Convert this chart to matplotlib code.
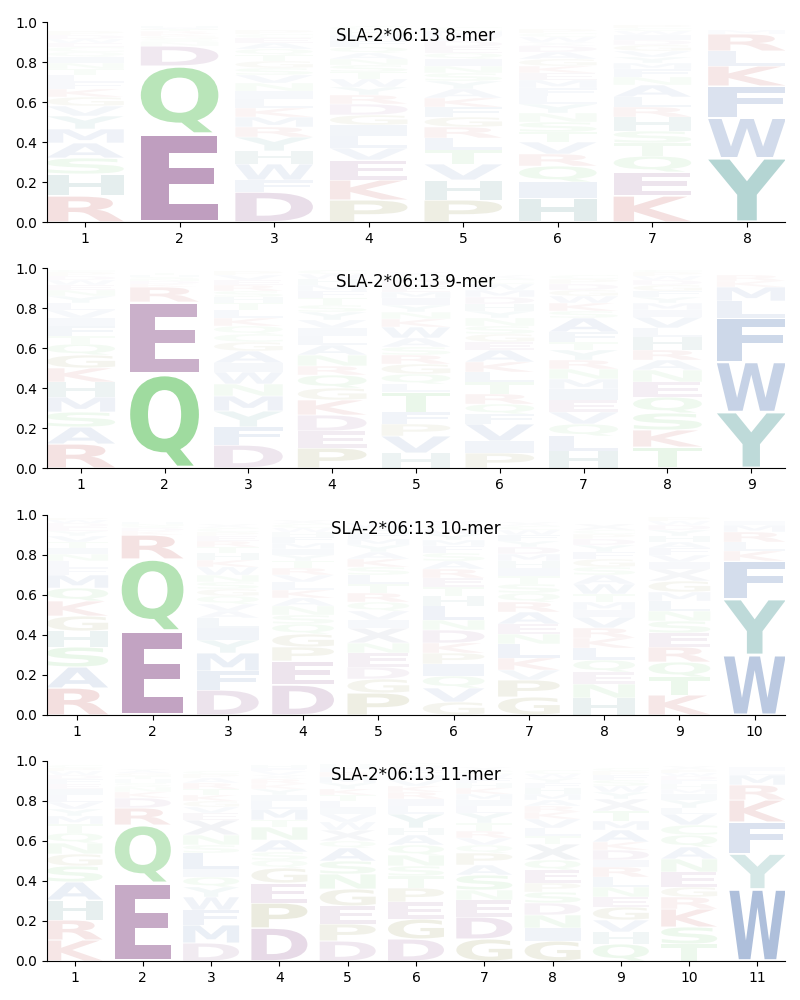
import matplotlib
matplotlib.use("Agg")
import matplotlib.pyplot as plt
from matplotlib.textpath import TextPath
from matplotlib.patches import PathPatch
from matplotlib.font_manager import FontProperties
from matplotlib.transforms import Affine2D

allele = "SLA-2*06:13"

# letters of each position, bottom to top, with their heights
letters_8 = ["RHSAMYVGKFLTNIQCEWDP", "EQDNSGKRTAH", "DFWHYRMKLINVSGTQAECP",
             "PKEVLIGDRYWTSNAQFMHC", "PHVTLRGFKAYSNIQEDWMC", "HIQRVTSNYLFMEKGADXWCP",
             "KEQTSHRLANFMYVGDIWCP", "YWFKLRM"]
heights_8 = [
    [.13, .11, .08, .075, .07, .065, .05, .045, .04, .035, .035, .03, .03, .03, .025, .025, .02, .02, .02, .02],
    [.44, .34, .10, .02, .015, .015, .012, .012, .01, .008, .008],
    [.15, .06, .08, .065, .07, .05, .05, .045, .045, .04, .04, .04, .035, .035, .03, .03, .03, .025, .02, .02],
    [.11, .10, .10, .06, .06, .055, .05, .055, .045, .04, .04, .035, .035, .03, .03, .03, .03, .03, .025, .02],
    [.11, .10, .08, .07, .06, .055, .05, .05, .045, .045, .04, .04, .035, .035, .03, .03, .03, .025, .025, .02],
    [.12, .08, .08, .06, .06, .05, .05, .045, .045, .04, .04, .04, .035, .035, .035, .035, .03, .02, .025, .02, .02],
    [.13, .12, .08, .065, .06, .07, .05, .05, .06, .04, .04, .03, .03, .03, .03, .025, .025, .02, .015, .015],
    [.32, .20, .16, .10, .075, .085, .02],
]

letters_9 = ["RASMHKGQTFIVLYNEWDPC", "QERKDNSHT", "DFYMNWIAGCQKLTHSREVP",
             "PEDKGQRNALIVYSTFMHWC", "HVPFTLQGRSAWKNYIMEDCX", "PIVFQRTLKAEGSNYHDMWCX",
             "HLQVEIMNRYTFASKWGDPC", "TKSQENARHLVIMYFGDWPC", "YWFLMKR"]
heights_9 = [
    [.12, .085, .075, .075, .075, .07, .065, .055, .04, .05, .04, .04, .035, .035, .03, .025, .025, .02, .02, .01],
    [.47, .36, .075, .015, .015, .01, .01, .01, .01],
    [.115, .09, .08, .075, .06, .06, .045, .06, .045, .04, .04, .04, .04, .035, .03, .03, .03, .025, .025, .02],
    [.10, .085, .08, .075, .06, .065, .045, .055, .05, .045, .04, .04, .04, .035, .035, .035, .03, .03, .025, .02],
    [.075, .085, .06, .06, .10, .04, .05, .05, .045, .04, .045, .055, .04, .035, .035, .035, .03, .03, .03, .02, .02],
    [.075, .06, .085, .05, .05, .05, .06, .05, .05, .06, .04, .04, .04, .04, .035, .035, .035, .035, .03, .025, .02],
    [.085, .075, .06, .06, .06, .055, .05, .05, .045, .05, .04, .05, .07, .035, .04, .035, .03, .03, .025, .02],
    [.105, .085, .085, .08, .075, .06, .05, .05, .065, .045, .055, .035, .035, .03, .03, .03, .025, .02, .02, .01],
    [.28, .25, .22, .085, .07, .03, .03],
]

letters_10 = ["RASHGKQMFLNITVYEDWP", "EQRKDSNH", "DFMYILAVQGSNWKHTREPCX",
              "DEPGQSNAKLVRTYIMFHWCX", "PGDENXIVQRTLSKAYMFHW", "GVQIPKDNLHTERASFMYWCX",
              "GPVKLNEARQSTIHMDYFWCX", "HNEQLKRVIMTWASGFYDPCX", "KTQRESNLMGXIVFAHYDWP",
              "WYFKLRMI"]
heights_10 = [
    [.135, .105, .10, .08, .075, .075, .065, .065, .035, .035, .035, .03, .03, .03, .025, .02, .02, .015, .01],
    [.42, .36, .12, .02, .015, .01, .01, .01],
    [.125, .095, .09, .065, .06, .05, .035, .035, .04, .035, .035, .035, .04, .035, .035, .03, .03, .025, .02, .02, .02],
    [.15, .12, .07, .065, .05, .045, .045, .04, .04, .04, .035, .035, .035, .03, .03, .03, .03, .025, .02, .02, .02],
    [.11, .07, .06, .07, .05, .075, .04, .045, .045, .045, .045, .045, .04, .04, .035, .035, .03, .03, .025, .025],
    [.065, .07, .06, .06, .055, .05, .065, .05, .07, .05, .045, .045, .045, .04, .04, .035, .03, .03, .025, .02, .02],
    [.09, .085, .05, .06, .07, .05, .05, .06, .05, .045, .045, .04, .04, .035, .035, .035, .03, .03, .025, .02, .02],
    [.085, .07, .06, .06, .06, .05, .05, .055, .035, .04, .04, .05, .045, .04, .04, .035, .035, .03, .025, .02, .03],
    [.10, .09, .075, .075, .07, .06, .05, .05, .045, .055, .06, .035, .035, .035, .03, .03, .03, .025, .02, .02],
    [.30, .28, .19, .05, .045, .05, .035, .02],
]

letters_11 = ["KRHASGNQTMYVLIEFDWPC", "EQRDKNSHTGAY", "DMFWYQILSNXEVGKTRAPC",
              "DPEGQSANTMLIYKRXVFH", "DPEGNSAQXWVILTKYMRFH", "DGEPTSNQAHYLIRKVMFWC",
              "GDENSAPQVRTYLIMKHFWCX", "GINDSPEQXTLVKRAMHFYWC", "QHVGENLRIDKAMTXYWSFPC",
              "TSKRGENAQCVLYIMHFDWPX", "WYFKRMLI"]
heights_11 = [
    [.105, .10, .10, .09, .08, .06, .055, .05, .045, .04, .035, .035, .035, .03, .025, .025, .02, .02, .015, .015],
    [.39, .29, .085, .05, .03, .025, .02, .02, .015, .015, .01, .01],
    [.09, .09, .075, .065, .05, .05, .04, .08, .04, .05, .075, .035, .03, .03, .03, .03, .03, .025, .02, .015],
    [.165, .125, .10, .075, .04, .04, .06, .065, .035, .055, .04, .03, .03, .025, .025, .02, .02, .015, .015],
    [.10, .085, .09, .085, .075, .065, .065, .035, .055, .04, .04, .03, .035, .03, .03, .03, .03, .025, .02, .02],
    [.11, .10, .085, .07, .06, .05, .055, .05, .05, .035, .07, .04, .035, .035, .03, .03, .025, .025, .02, .015],
    [.11, .11, .085, .05, .075, .05, .06, .04, .035, .035, .04, .05, .035, .03, .03, .03, .025, .025, .02, .015, .02],
    [.10, .065, .065, .06, .055, .045, .065, .05, .08, .04, .04, .045, .035, .03, .03, .03, .03, .025, .025, .02, .02],
    [.085, .06, .06, .065, .05, .05, .05, .05, .035, .05, .04, .06, .045, .05, .06, .035, .03, .03, .025, .02, .015],
    [.085, .085, .09, .06, .05, .075, .065, .06, .06, .05, .055, .03, .04, .03, .025, .025, .02, .02, .015, .015, .02],
    [.36, .175, .16, .11, .075, .05, .02, .02],
]

panels = [(8, letters_8, heights_8), (9, letters_9, heights_9),
          (10, letters_10, heights_10), (11, letters_11, heights_11)]

blue = (0.12, 0.31, 0.61)
green = (0.20, 0.70, 0.20)
purple = (0.43, 0.14, 0.43)
red = (0.67, 0.08, 0.08)
olive = (0.40, 0.40, 0.0)
colors = {
    "A": blue, "I": blue, "L": blue, "M": blue, "V": blue, "F": blue, "W": blue,
    "Y": (0.09, 0.49, 0.47), "H": (0.08, 0.40, 0.40),
    "D": purple, "E": purple,
    "K": red, "R": red,
    "N": green, "Q": green, "S": green, "T": green, "C": green,
    "G": olive, "P": olive,
    "X": (0.35, 0.40, 0.55),
}

fp = FontProperties(family="DejaVu Sans", weight="bold")


def draw_letter(ax, ch, x, y0, h, width=0.82):
    tp = TextPath((0, 0), ch, size=1, prop=fp)
    bb = tp.get_extents()
    pad = 0.025 * h
    tr = (Affine2D().translate(-bb.x0, -bb.y0)
          .scale(width / bb.width, (h - 2 * pad) / bb.height)
          .translate(x - width / 2, y0 + pad))
    alpha = min(1.0, max(0.02, h))
    ax.add_patch(PathPatch(tr.transform_path(tp), facecolor=colors[ch],
                           edgecolor="none", alpha=alpha))


fig = plt.figure(figsize=(8, 10), dpi=100)
bottoms = [0.778, 0.532, 0.285, 0.039]

for (n, letters, heights), b in zip(panels, bottoms):
    ax = fig.add_axes([0.059, b, 0.922, 0.2])
    for i, (word, hs) in enumerate(zip(letters, heights)):
        y = 0.0
        for ch, h in zip(word, hs):
            draw_letter(ax, ch, i + 1, y, h)
            y += h
    ax.set_xlim(0.6, n + 0.4)
    ax.set_ylim(0, 1)
    ax.set_xticks(range(1, n + 1))
    ax.spines["top"].set_visible(False)
    ax.spines["right"].set_visible(False)
    ax.text(0.5, 0.93, f"{allele} {n}-mer", transform=ax.transAxes,
            ha="center", va="center", fontsize=12)

fig.savefig("out.png")
